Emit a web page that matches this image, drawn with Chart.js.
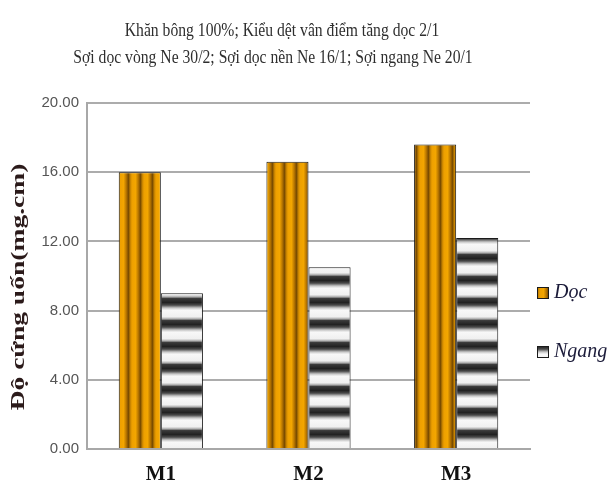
<!DOCTYPE html>
<html>
<head>
<meta charset="utf-8">
<script src="https://cdn.jsdelivr.net/npm/chart.js@4.4.1/dist/chart.umd.min.js"></script>
<style>
  html, body { margin: 0; padding: 0; background: #ffffff; }
  #wrap { width: 611px; height: 486px; position: relative; }
</style>
</head>
<body>
<div id="wrap"><canvas id="chart" width="611" height="486"></canvas></div>
<script>
// Bending stiffness of 100% cotton terry, warp vs weft direction
const categories = ['M1', 'M2', 'M3'];
const seriesNames = ['Dọc', 'Ngang'];
const docValues = [16.0, 16.6, 17.6];
const ngangValues = [9.0, 10.5, 12.2];
const yTicks = [0, 4, 8, 12, 16, 20];
const titleLines = [
  'Khăn bông 100%; Kiểu dệt vân điểm tăng dọc 2/1',
  'Sợi dọc vòng Ne 30/2; Sợi dọc nền Ne 16/1; Sợi ngang Ne 20/1'
];
const yAxisTitle = 'Độ cứng uốn(mg.cm)';

// Vertical orange stripes for the warp bars
function makeVerticalStripes() {
  const c = document.createElement('canvas');
  c.width = 12; c.height = 4;
  const g = c.getContext('2d');
  const grad = g.createLinearGradient(0, 0, 12, 0);
  grad.addColorStop(0.0, '#eea000');
  grad.addColorStop(0.3, '#f3a600');
  grad.addColorStop(0.52, '#b87600');
  grad.addColorStop(0.7, '#774a00');
  grad.addColorStop(0.87, '#c88400');
  grad.addColorStop(1.0, '#eea000');
  g.fillStyle = grad;
  g.fillRect(0, 0, 12, 4);
  return g.createPattern(c, 'repeat');
}

// Horizontal grey/white bands for the weft bars
function makeHorizontalStripes() {
  const c = document.createElement('canvas');
  c.width = 4; c.height = 22;
  const g = c.getContext('2d');
  const grad = g.createLinearGradient(0, 0, 0, 22);
  grad.addColorStop(0.0, '#c8c8c8');
  grad.addColorStop(0.1, '#f8f8f8');
  grad.addColorStop(0.4, '#f0f0f0');
  grad.addColorStop(0.5, '#a8a8a8');
  grad.addColorStop(0.57, '#3a3a3a');
  grad.addColorStop(0.75, '#222222');
  grad.addColorStop(0.87, '#4a4a4a');
  grad.addColorStop(1.0, '#c8c8c8');
  g.fillStyle = grad;
  g.fillRect(0, 0, 4, 22);
  return g.createPattern(c, 'repeat');
}

const docPattern = makeVerticalStripes();
const ngangPattern = makeHorizontalStripes();

// Two-line heading drawn above the plot, in narrow tall lettering
const headingPlugin = {
  id: 'heading',
  afterDraw(chart) {
    const ctx = chart.ctx;
    const lines = [[282, 36], [273, 63]];
    ctx.save();
    ctx.fillStyle = '#2e2e2e';
    ctx.font = '18px "Liberation Serif", "Times New Roman", serif';
    ctx.textAlign = 'center';
    ctx.textBaseline = 'alphabetic';
    titleLines.forEach((t, i) => {
      ctx.save();
      ctx.translate(lines[i][0], lines[i][1]);
      ctx.scale(0.87, 1);
      ctx.fillText(t, 0, 0);
      ctx.restore();
    });
    ctx.restore();
  }
};

// Vertical axis caption, tall narrow lettering along the axis
const yCaptionPlugin = {
  id: 'yCaption',
  afterDraw(chart) {
    const ctx = chart.ctx;
    ctx.save();
    ctx.translate(19, 287);
    ctx.rotate(-Math.PI / 2);
    ctx.scale(1.45, 1);
    ctx.fillStyle = '#2b1a1a';
    ctx.font = 'bold 19px "Liberation Serif", "Times New Roman", serif';
    ctx.textAlign = 'center';
    ctx.textBaseline = 'middle';
    ctx.fillText(yAxisTitle, 0, 0);
    ctx.restore();
  }
};

// Legend on the right, with widely spaced entries
const sideLegendPlugin = {
  id: 'sideLegend',
  afterDraw(chart) {
    const ctx = chart.ctx;
    const area = chart.chartArea;
    const x = area.right + 7;
    const rows = [293, 352];
    ctx.save();
    chart.data.datasets.forEach((ds, i) => {
      const cy = rows[i];
      ctx.fillStyle = ds.backgroundColor;
      ctx.fillRect(x, cy - 6, 11, 11);
      ctx.strokeStyle = '#1a1a1a';
      ctx.lineWidth = 1;
      ctx.strokeRect(x + 0.5, cy - 5.5, 11, 11);
      ctx.fillStyle = '#1c1c3a';
      ctx.font = 'italic 20px "Liberation Serif", "Times New Roman", serif';
      ctx.textAlign = 'left';
      ctx.textBaseline = 'middle';
      ctx.fillText(ds.label, x + 17, cy);
    });
    ctx.restore();
  }
};

new Chart(document.getElementById('chart'), {
  type: 'bar',
  data: {
    labels: categories,
    datasets: [
      {
        label: seriesNames[0],
        data: docValues,
        backgroundColor: docPattern,
        borderColor: '#1a1a1a',
        borderWidth: 1,
        borderSkipped: 'start',
        categoryPercentage: 0.57,
        barPercentage: 1.0
      },
      {
        label: seriesNames[1],
        data: ngangValues,
        backgroundColor: ngangPattern,
        borderColor: '#1a1a1a',
        borderWidth: 1,
        borderSkipped: 'start',
        categoryPercentage: 0.57,
        barPercentage: 1.0
      }
    ]
  },
  options: {
    responsive: false,
    animation: false,
    layout: { padding: { top: 103, right: 81, bottom: 0, left: 0 } },
    plugins: {
      legend: { display: false },
      title: { display: false },
      tooltip: { enabled: false }
    },
    scales: {
      x: {
        grid: { display: false },
        border: { display: true, color: '#a8a8a8', width: 2 },
        ticks: {
          color: '#111111',
          padding: 5,
          font: { family: '"Liberation Serif", "Times New Roman", serif', size: 21, weight: 'bold' }
        },
        afterFit(scale) { scale.height = 37; }
      },
      y: {
        min: 0,
        max: 20,
        afterBuildTicks(scale) {
          scale.ticks = yTicks.map(v => ({ value: v }));
        },
        grid: { color: '#acacac', lineWidth: 2, drawTicks: false },
        border: { display: true, color: '#a8a8a8', width: 2 },
        ticks: {
          color: '#555555',
          padding: 8,
          font: { family: '"Liberation Sans", Arial, sans-serif', size: 15 },
          callback: v => Number(v).toFixed(2)
        },
        afterFit(scale) { scale.width = 87; }
      }
    }
  },
  plugins: [headingPlugin, yCaptionPlugin, sideLegendPlugin]
});
</script>
</body>
</html>
